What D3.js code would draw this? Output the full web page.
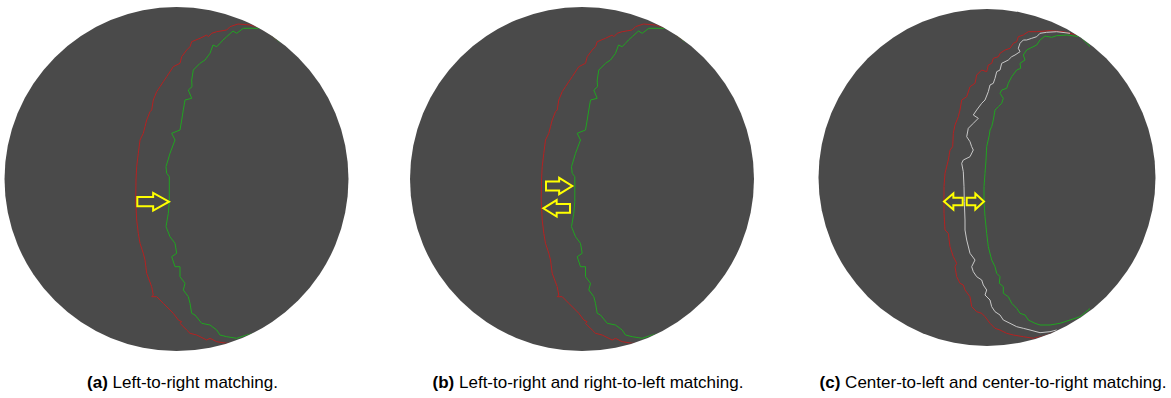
<!DOCTYPE html>
<html>
<head>
<meta charset="utf-8">
<script src="https://cdn.jsdelivr.net/npm/d3@7"></script>
<style>
  body { margin: 0; background: #fff; }
  .caption { font-family: "Liberation Sans", Arial, sans-serif; font-size: 17px; fill: #000; }
</style>
</head>
<body>
<div id="chart"></div>
<script>
// contours, offsets from the disc centre (source pixels)
const redOuter = [[100.5,-139],[91.5,-146],[83.5,-151],[73.5,-154],[61.5,-155],[53.5,-152.3],[50.2,-149],[40.2,-147.3],
  [35.2,-145.7],[31.8,-142.3],[30.2,-144],[23.5,-140.7],[15.2,-137.3],[13.5,-132.3],[10.2,-129],[5.2,-122.3],[3.5,-115.7],
  [-3.2,-112.3],[-9.8,-102.3],[-13.2,-97.3],[-16.5,-92.3],[-19.8,-87.3],[-23.2,-79],[-24.8,-69],[-26.5,-67.3],[-29.8,-59],
  [-31.5,-52.3],[-33.2,-45.7],[-36.5,-39],[-38.2,-25.7],[-39.8,-12.3],[-40.5,1],[-40.8,21],[-39.8,41],[-38.2,54.3],
  [-36.5,64.3],[-33.2,74.3],[-31.5,81],[-29.8,94.3],[-24.8,107.7],[-23.2,116],[-24.8,117.7],[-19.8,117.7],[-13.2,124.3],
  [-6.5,131],[-3.2,134.3],[1.8,141],[5.2,142.7],[3.5,144.3],[10.2,151],[13.5,154.3],[20.2,156],[30.2,161],[33.5,159.3],
  [40.2,162.7],[50.2,164.3],[60.2,162.7],[70.2,159.3]];
const greenInner = [[103,-137],[90.5,-147],[86.8,-150.7],[66.8,-150.7],[60.2,-145.7],[56.5,-148],[50.2,-142.3],[46.5,-139],
  [43.5,-135.7],[40.2,-132.3],[36.5,-134],[33.5,-125.7],[28.5,-119],[23.5,-115.7],[16.8,-109],[15.2,-99],[15.5,-92.3],
  [11.8,-89],[15.2,-80.7],[8.5,-79],[6.8,-69],[5.2,-59],[3.5,-49],[-4.8,-45.7],[-1.5,-39],[-6.5,-25.7],[-10.5,-12.3],
  [-9.8,-5.7],[-7.2,-2.3],[-7.2,22.7],[-8.2,34.3],[-10.5,47.7],[-6.5,57.7],[-1.5,64.3],[0.2,74.3],[-4.8,77.7],[-1.5,87.7],
  [3.5,87.7],[3.5,97.7],[8.5,104.3],[6.8,111],[11.8,117.7],[13.5,124.3],[15.2,134.3],[18.5,136],[25.2,144.3],[33.5,146],
  [40.2,151],[43.5,156],[50.2,157.7],[60.2,159.3],[70.2,156],[83.5,152.7],[92,146]];

const redC = [[89.7,-142.5],[76.3,-145.8],[63,-146.8],[49.7,-145.8],[41.3,-145.8],[36.3,-142.5],[31.3,-140.8],[29.7,-135.8],
  [26.3,-134.2],[23,-129.2],[18,-127.5],[13,-124.2],[11.3,-120.8],[6.3,-119.2],[4.7,-114.2],[1.3,-112.5],[-0.3,-105.8],
  [-5.3,-107.5],[-10.3,-102.5],[-12,-94.2],[-17,-90.8],[-20.3,-80.8],[-25.3,-77.5],[-27,-67.5],[-28.7,-60.8],[-32,-52.5],
  [-33.7,-44.2],[-34.3,-30.8],[-37,-27.5],[-38.7,-17.5],[-42,-4.2],[-43,9.2],[-43,24.2],[-43,35.8],[-42,52.5],[-38.7,55.8],
  [-37,69.2],[-33.7,79.2],[-30.3,85.8],[-32,89.2],[-30.3,99.2],[-27,105.8],[-23.7,107.5],[-22,112.5],[-17,119.2],
  [-15.3,129.2],[-10.3,134.2],[-5.3,135.8],[-2,139.2],[3,145.8],[8,150.8],[13,152.5],[19.7,155.8],[26.3,157.5],
  [36.3,159.2],[46.3,160.8],[56.3,158.5],[66.3,155.2],[73,152.5]];
const whiteC = [[83,-144.2],[69.7,-145.8],[59.7,-145.2],[53,-144.2],[49.7,-140.8],[44.7,-139.2],[39.7,-137.5],[36.3,-137.5],
  [33,-134.2],[31.3,-129.2],[33,-125.8],[28,-122.5],[24.7,-120.8],[21.3,-117.5],[18,-115.8],[14.7,-114.2],[13,-107.5],
  [9.7,-105.8],[8,-99.2],[6.3,-94.2],[3,-92.5],[1.3,-85.8],[-2,-77.5],[-5.3,-74.2],[-10.3,-67.5],[-13.7,-62.5],[-8.7,-59.2],
  [-13.7,-54.2],[-18.7,-49.2],[-20.3,-40.8],[-17,-35.8],[-15.3,-30.8],[-13.7,-27.5],[-17,-20.8],[-23.7,-17.5],[-25.3,-14.2],
  [-23.7,-5.8],[-23,9.2],[-22.7,24.2],[-22,42.5],[-22,52.5],[-20.3,62.5],[-17,75.8],[-12,82.5],[-15.3,89.2],[-13.7,94.2],
  [-10.3,99.2],[-5.3,102.5],[-3.7,107.5],[-0.3,112.5],[-2,117.5],[3,122.5],[4.7,129.2],[8,134.2],[13,137.5],[16.3,142.5],
  [23,145.8],[29.7,149.2],[36.3,150.8],[43,152.5],[53,155.2],[63,154.2],[69.7,152.5]];
const greenC = [[103,-131],[93,-140.8],[79.7,-142.5],[69.7,-141.8],[64.7,-140.2],[58,-141.5],[53,-137.5],[49.7,-132.5],
  [43,-129.2],[39.7,-127.5],[36.3,-122.5],[38,-117.5],[33,-114.2],[33.7,-109.2],[29.7,-107.5],[24.7,-100.8],[21.3,-94.2],
  [19.7,-89.2],[14.7,-87.5],[13,-84.2],[16.3,-79.2],[14.7,-74.2],[11.3,-70.8],[8,-67.5],[6.3,-57.5],[4.7,-50.8],[3,-47.5],
  [2.3,-42.5],[-0.3,-30.8],[-1,-17.5],[-2,-4.2],[-3,9.2],[-3,24.2],[-2,39.2],[-0.3,55.8],[1.3,69.2],[4.7,82.5],[8,89.2],
  [9.7,95.8],[13,99.2],[12.3,105.8],[16.3,109.2],[16.3,115.8],[21.3,119.2],[24.7,125.8],[29.7,130.8],[33,135.8],[38,137.5],
  [41.3,142.5],[48,145.8],[53,147.5],[63,147.5],[73,145.8],[83,142.5],[93,139.2],[103,131]];

// yellow arrows: tip and tail, same units
const arrowsA = [{ tip: [-7.5, 22.7], tail: [-39.2, 22.7] }];
const arrowsB = [{ tip: [-9.7, 7], tail: [-36, 7] }, { tip: [-38.7, 29.3], tail: [-12, 29.3] }];
const arrowsC = [{ tip: [-43, 24], tail: [-24.3, 24] }, { tip: [-3, 24], tail: [-20.3, 24] }];

const captionTags = ['(a)', '(b)', '(c)'];
const captionTexts = [' Left-to-right matching.', ' Left-to-right and right-to-left matching.',
  ' Center-to-left and center-to-right matching.'];

const width = 1171, height = 398;
const svg = d3.select('#chart').append('svg').attr('width', width).attr('height', height);

const panels = [
  { id: 'a', cx: 176.5, cy: 179, r: 172, R: 172, lines: [[redOuter, '#b42222'], [greenInner, '#21a421']],
    arrows: arrowsA, headHalf: 8.8, shaftHalf: 4.6 },
  { id: 'b', cx: 582, cy: 179, r: 172, R: 172, lines: [[redOuter, '#b42222'], [greenInner, '#21a421']],
    arrows: arrowsB, headHalf: 8.2, shaftHalf: 4.4 },
  { id: 'c', cx: 987, cy: 177.5, r: 168.5, R: 168.5,
    lines: [[redC, '#b42222'], [whiteC, '#c9c9c9'], [greenC, '#21a421']],
    arrows: arrowsC, headHalf: 8, shaftHalf: 3.8 }
];

panels.forEach((p, i) => {
  const x = d3.scaleLinear().domain([-p.R, p.R]).range([p.cx - p.r, p.cx + p.r]);
  const y = d3.scaleLinear().domain([-p.R, p.R]).range([p.cy - p.r, p.cy + p.r]);

  svg.append('clipPath').attr('id', 'clip' + p.id)
    .append('circle').attr('cx', x(0)).attr('cy', y(0)).attr('r', p.r - 0.5);

  svg.append('circle')
    .attr('cx', x(0)).attr('cy', y(0)).attr('r', p.r)
    .attr('fill', '#4a4a4a');

  const g = svg.append('g').attr('clip-path', `url(#clip${p.id})`);
  const line = d3.line().x(d => x(d[0])).y(d => y(d[1]));

  g.selectAll('path.contour')
    .data(p.lines)
    .enter()
    .append('path')
    .attr('class', 'contour')
    .attr('d', d => line(d[0]))
    .attr('fill', 'none')
    .attr('stroke', d => d[1])
    .attr('stroke-width', 1);

  // hollow block arrows
  const arrowPath = a => {
    const tx = x(a.tip[0]), ty = y(a.tip[1]);
    const sx = x(a.tail[0]);
    const len = tx - sx;
    const bx = sx + len * 0.5;
    const pts = [[sx, ty - p.shaftHalf], [bx, ty - p.shaftHalf], [bx, ty - p.headHalf], [tx, ty],
      [bx, ty + p.headHalf], [bx, ty + p.shaftHalf], [sx, ty + p.shaftHalf]];
    return d3.line()(pts) + 'Z';
  };

  svg.selectAll('path.arrow' + p.id)
    .data(p.arrows)
    .enter()
    .append('path')
    .attr('class', 'arrow' + p.id)
    .attr('d', arrowPath)
    .attr('fill', 'none')
    .attr('stroke', '#ffff00')
    .attr('stroke-width', 2)
    .attr('stroke-linejoin', 'miter');

  // caption centred under its disc
  const cap = svg.append('text').attr('class', 'caption')
    .attr('x', p.cx + 6).attr('y', 388).attr('text-anchor', 'middle');
  cap.append('tspan').attr('font-weight', 'bold').text(captionTags[i]);
  cap.append('tspan').text(captionTexts[i]);
});
</script>
</body>
</html>
